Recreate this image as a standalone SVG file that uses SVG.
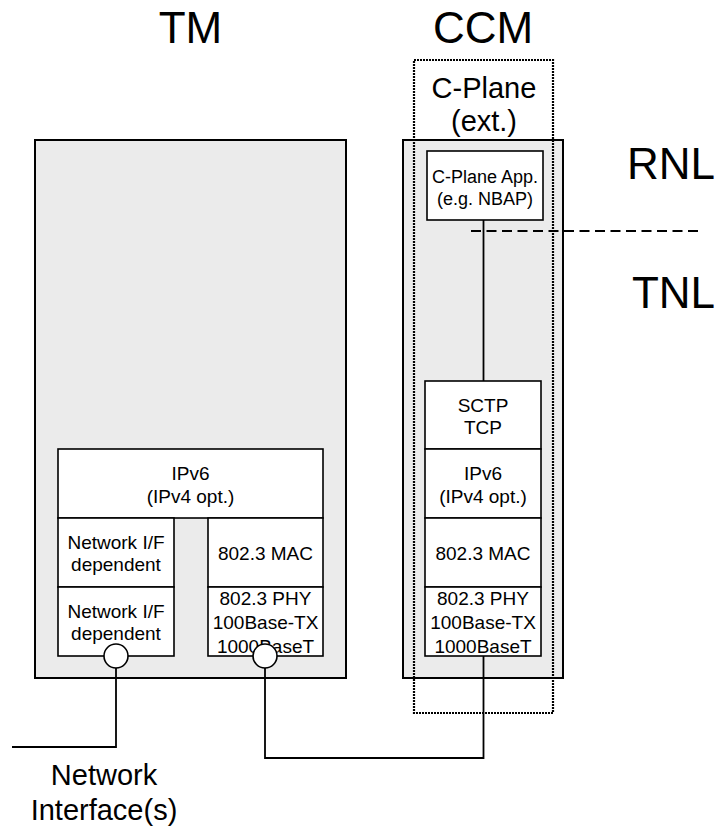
<svg xmlns="http://www.w3.org/2000/svg" width="718" height="828" viewBox="0 0 718 828">
<style>
text{font-family:"Liberation Sans",Arial,sans-serif;fill:#000}
.big{font-size:44px}
.mid{font-size:29px}
.sm{font-size:19px;text-anchor:middle}
.xs{font-size:18px;text-anchor:middle}
.c{text-anchor:middle}
.outer{fill:#EBEBEB;stroke:#000;stroke-width:2}
.box{fill:#fff;stroke:#000;stroke-width:1.6}
.wire{fill:none;stroke:#000;stroke-width:1.8}
.port{fill:#fff;stroke:#000;stroke-width:1.6}
</style>
<rect width="718" height="828" fill="#fff"/>
<text class="big c" x="190.5" y="43">TM</text>
<text class="big c" x="483" y="43">CCM</text>
<text class="big" x="715" y="179" text-anchor="end">RNL</text>
<text class="big" x="715" y="308" text-anchor="end">TNL</text>
<g id="tm">
<rect class="outer" x="35" y="140" width="311" height="538"/>
</g>
<g id="ccm">
<rect class="outer" x="403" y="140" width="160" height="538"/>
</g>
<g id="tm-ipv6"><rect class="box" x="58" y="449" width="265" height="69"/>
<text class="sm" x="190.5" y="480">IPv6</text><text class="sm" x="190.5" y="503">(IPv4 opt.)</text></g>
<g id="tm-nif1"><rect class="box" x="58" y="518" width="116" height="69"/>
<text class="sm" x="116" y="549">Network I/F</text><text class="sm" x="116" y="571">dependent</text></g>
<g id="tm-nif2"><rect class="box" x="58" y="587" width="116" height="69"/>
<text class="sm" x="116" y="618">Network I/F</text><text class="sm" x="116" y="640">dependent</text></g>
<g id="tm-mac"><rect class="box" x="208" y="518" width="115" height="69"/>
<text class="sm" x="265.5" y="559.5">802.3 MAC</text></g>
<g id="tm-phy"><rect class="box" x="208" y="587" width="115" height="69"/>
<text class="sm" x="265.5" y="605">802.3 PHY</text><text class="sm" x="265.5" y="629">100Base-TX</text><text class="sm" x="265.5" y="653">1000BaseT</text></g>
<g id="ccm-app"><rect class="box" x="427" y="151" width="116" height="69"/>
<text class="xs" x="485" y="183">C-Plane App.</text><text class="xs" x="485" y="205">(e.g. NBAP)</text></g>
<g id="ccm-sctp"><rect class="box" x="425" y="381" width="116" height="68"/>
<text class="sm" x="483" y="412">SCTP</text><text class="sm" x="483" y="434">TCP</text></g>
<g id="ccm-ipv6"><rect class="box" x="425" y="449" width="116" height="69"/>
<text class="sm" x="483" y="480">IPv6</text><text class="sm" x="483" y="503">(IPv4 opt.)</text></g>
<g id="ccm-mac"><rect class="box" x="425" y="518" width="116" height="69"/>
<text class="sm" x="483" y="559.5">802.3 MAC</text></g>
<g id="ccm-phy"><rect class="box" x="425" y="587" width="116" height="69"/>
<text class="sm" x="483" y="605">802.3 PHY</text><text class="sm" x="483" y="629">100Base-TX</text><text class="sm" x="483" y="653">1000BaseT</text></g>
<g id="cplane-ext">
<rect x="414" y="60" width="139" height="653" fill="none" stroke="#000" stroke-width="2.2" stroke-dasharray="2 1"/>
<text class="mid c" x="484" y="98">C-Plane</text>
<text class="mid c" x="484" y="131">(ext.)</text>
</g>
<g id="connectors">
<line x1="471" y1="231" x2="703" y2="231" stroke="#000" stroke-width="2.2" stroke-dasharray="10 5.5"/>
<line class="wire" x1="483.5" y1="220" x2="483.5" y2="381"/>
<polyline class="wire" points="116,668 116,747 12,747"/>
<polyline class="wire" points="265,668 265,758 483.5,758 483.5,656"/>
<circle class="port" cx="116" cy="656" r="12"/>
<circle class="port" cx="265" cy="656" r="12"/>
</g>
<text class="mid c" x="104" y="785">Network</text>
<text class="mid c" x="104" y="820">Interface(s)</text>
</svg>
